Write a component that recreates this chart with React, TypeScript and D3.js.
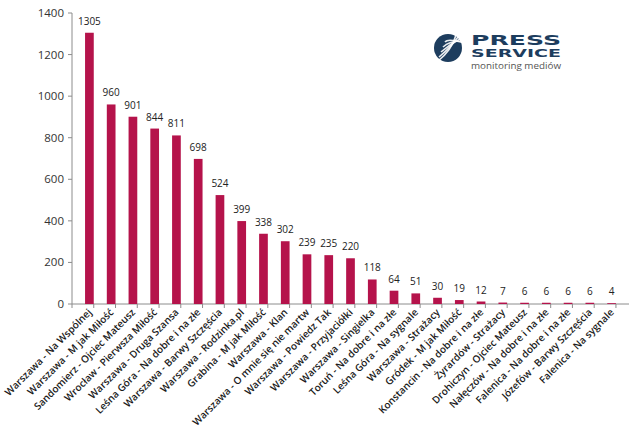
import React from "react";
import * as d3 from "d3";

const categories = [
  "Warszawa - Na Wspólnej",
  "Warszawa - M jak Miłość",
  "Sandomierz - Ojciec Mateusz",
  "Wrocław - Pierwsza Miłość",
  "Warszawa - Druga Szansa",
  "Leśna Góra - Na dobre i na złe",
  "Warszawa - Barwy Szczęścia",
  "Warszawa - Rodzinka.pl",
  "Grabina - M jak Miłość",
  "Warszawa - Klan",
  "Warszawa - O mnie się nie martw",
  "Warszawa - Powiedz Tak",
  "Warszawa - Przyjaciółki",
  "Warszawa - Singielka",
  "Toruń - Na dobre i na złe",
  "Leśna Góra - Na sygnale",
  "Warszawa - Strażacy",
  "Gródek - M jak Miłość",
  "Konstancin - Na dobre i na złe",
  "Żyrardów - Strażacy",
  "Drohiczyn - Ojciec Mateusz",
  "Nałęczów - Na dobre i na złe",
  "Falenica - Na dobre i na złe",
  "Józefów - Barwy Szczęścia",
  "Falenica - Na sygnale",
];

const values = [
  1305, 960, 901, 844, 811, 698, 524, 399, 338, 302, 239, 235, 220, 118, 64, 51,
  30, 19, 12, 7, 6, 6, 6, 6, 4,
];

const yTicks = [0, 200, 400, 600, 800, 1000, 1200, 1400];

const width = 640;
const height = 438;
const left = 72;
const right = 629;
const top = 13;
const bottom = 304;
const barColor = "#B5134B";
const axisColor = "#8c8c8c";
const font = "'Open Sans', 'DejaVu Sans', sans-serif";

const App: React.FC = () => {
  const x = d3.scaleBand().domain(categories).range([left, right]).padding(0.6);
  const y = d3.scaleLinear().domain([0, 1400]).range([bottom, top]);
  const step = x.step();
  const x0 = x.range()[0];

  return (
    <svg
      width={width}
      height={height}
      style={{ position: "absolute", left: 0, top: 0, background: "#fff" }}
    >
      {/* y axis */}
      <line x1={left} x2={left} y1={top} y2={bottom} stroke={axisColor} />
      {yTicks.map((t) => (
        <g key={t}>
          <line x1={left - 4} x2={left} y1={y(t)} y2={y(t)} stroke={axisColor} />
          <text
            x={left - 8}
            y={y(t)}
            dy="0.35em"
            textAnchor="end"
            fontSize={11.5}
            fontFamily={font}
            fill="#333"
          >
            {t}
          </text>
        </g>
      ))}

      {/* x axis */}
      <line x1={left} x2={right} y1={bottom} y2={bottom} stroke={axisColor} />
      {d3.range(categories.length + 1).map((i) => (
        <line
          key={i}
          x1={x0 + i * step}
          x2={x0 + i * step}
          y1={bottom}
          y2={bottom + 4}
          stroke={axisColor}
        />
      ))}

      {/* bars */}
      {categories.map((c, i) => (
        <rect
          key={c}
          x={x(c)}
          y={y(values[i])}
          width={x.bandwidth()}
          height={bottom - y(values[i])}
          fill={barColor}
        />
      ))}

      {/* value labels */}
      {categories.map((c, i) => (
        <text
          key={c}
          x={(x(c) as number) + x.bandwidth() / 2}
          y={y(values[i]) - 8}
          textAnchor="middle"
          fontSize={10}
          fontFamily={font}
          fill="#222"
        >
          {values[i]}
        </text>
      ))}

      {/* category labels */}
      {categories.map((c) => {
        const cx = (x(c) as number) + x.bandwidth() / 2 + 3;
        const cy = bottom + 9;
        return (
          <text
            key={c}
            transform={`translate(${cx},${cy}) rotate(-45)`}
            textAnchor="end"
            fontSize={10}
            fontWeight={600}
            fontFamily={font}
            fill="#1a1a1a"
          >
            {c}
          </text>
        );
      })}

      {/* logo */}
      <g>
        <circle cx={448} cy={48} r={14} fill="#1d3d5e" />
        {[0, 1, 2, 3, 4].map((k) => (
          <path
            key={k}
            d={`M${437 + k * 2},${62 - k * 5} Q${452 - k},${50 - k * 3} ${456 + k * 2},${35 + k * 2}`}
            stroke="#fff"
            strokeWidth={1.6}
            fill="none"
            opacity={0.9}
          />
        ))}
        <text
          x={471}
          y={45}
          fontSize={14}
          fontWeight={900}
          fontFamily="'DejaVu Sans', sans-serif"
          fill="#1d3d5e"
          textLength={90}
          lengthAdjust="spacingAndGlyphs"
        >
          PRESS
        </text>
        <text
          x={471}
          y={57}
          fontSize={11}
          fontWeight={900}
          fontFamily="'DejaVu Sans', sans-serif"
          fill="#1d3d5e"
          textLength={90}
          lengthAdjust="spacingAndGlyphs"
        >
          SERVICE
        </text>
        <text
          x={471}
          y={69}
          fontSize={8.5}
          fontFamily={font}
          fill="#555"
          textLength={90}
          lengthAdjust="spacingAndGlyphs"
        >
          monitoring mediów
        </text>
      </g>
    </svg>
  );
};

export default App;
